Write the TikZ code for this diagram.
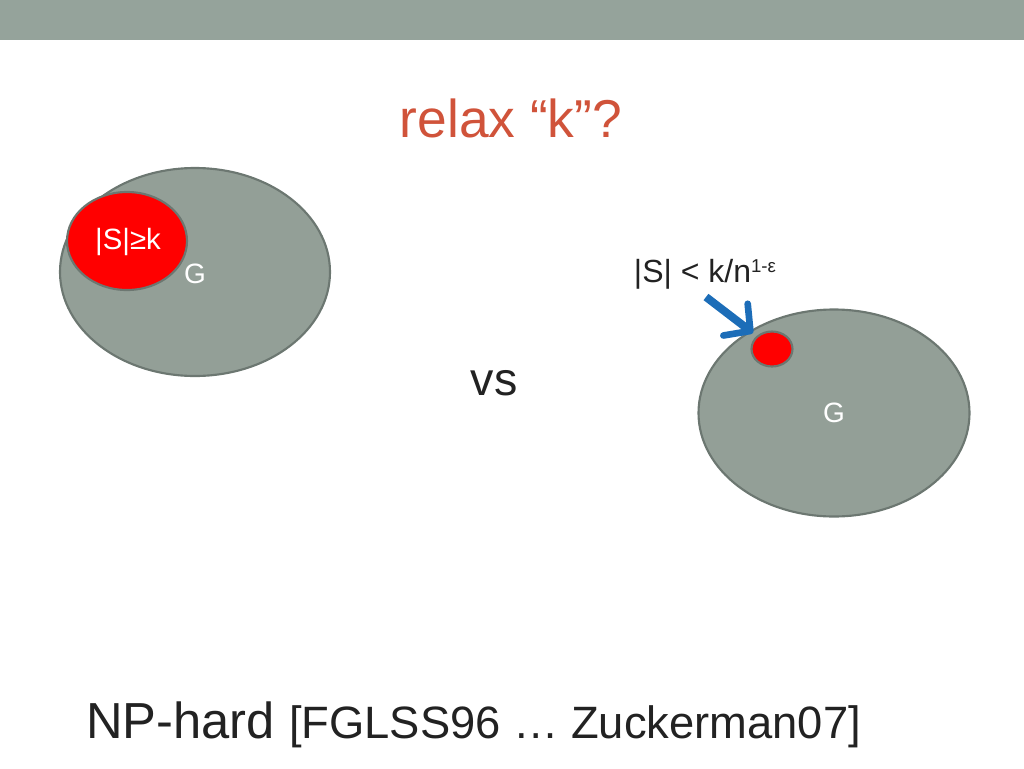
\documentclass[tikz,border=0pt]{standalone}
\usepackage{fontspec}
\setmainfont{Liberation Sans}
\usetikzlibrary{shapes.geometric,arrows.meta}
\definecolor{bar}{HTML}{95A39B}
\definecolor{gfill}{HTML}{939F97}
\definecolor{gline}{HTML}{6C7771}
\definecolor{ttl}{HTML}{D0533A}
\definecolor{sred}{HTML}{FF0000}
\definecolor{arr}{HTML}{1C6DB8}
\definecolor{txt}{HTML}{222222}
\begin{document}
\begin{tikzpicture}[x=0.75pt,y=-0.75pt,
  gell/.style={ellipse,draw=gline,fill=gfill,line width=1.6pt,inner sep=0pt},
  rell/.style={ellipse,draw=gline,fill=sred,line width=1.6pt,inner sep=0pt},
  wlab/.style={text=white,font=\fontsize{21}{25}\selectfont,inner sep=0pt}]
\useasboundingbox (0,0) rectangle (1024,768);
\fill[bar] (0,0) rectangle (1024,40);
\node[text=ttl,font=\fontsize{40}{48}\selectfont] (title) at (511,118) {relax “k”?};
% left
\node[gell,minimum width=202.5pt,minimum height=156pt] (g1) at (195,272) {};
\node[rell,minimum width=90pt,minimum height=73.5pt] (s1) at (127,241) {};
\node[wlab,font=\fontsize{22}{26}\selectfont] (s1l) at (128,242) {|S|≥k};
\node[wlab] (g1l) at (195,274) {G};
% vs
\node[text=txt,font=\fontsize{35}{42}\selectfont] (vs) at (494,383) {vs};
% right
\node[gell,minimum width=203.25pt,minimum height=155.25pt] (g2) at (834,413) {};
\node[wlab] (g2l) at (834,413) {G};
\node[rell,minimum width=30.75pt,minimum height=26.25pt] (s2) at (772,349) {};
\node[text=txt,font=\fontsize{24}{28}\selectfont,inner sep=0pt] (s2l) at (705,274) {|S| < k/n\raisebox{0.6ex}{\fontsize{14}{16}\selectfont 1-ε}};
\coordinate (a0) at (706,297);
\draw[arr,line width=6pt,-{Straight Barb[length=14pt,width=30pt,line width=5pt,round]}] (a0) -- (753,333);
% bottom
\node[text=txt,anchor=base west,inner sep=0pt] (np) at (86,738) {\fontsize{38}{44}\selectfont NP-hard \fontsize{34}{40}\selectfont [FGLSS96 … Zuckerman07]};
\end{tikzpicture}
\end{document}
